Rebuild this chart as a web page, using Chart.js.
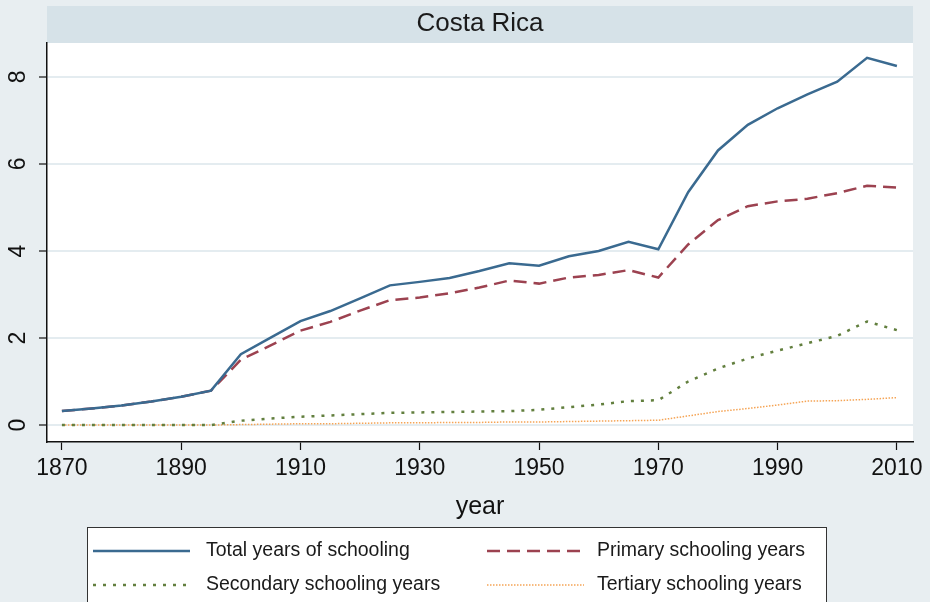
<!DOCTYPE html>
<html>
<head>
<meta charset="utf-8">
<script src="https://cdn.jsdelivr.net/npm/chart.js@4.4.1/dist/chart.umd.min.js"></script>
<style>
  html, body { margin: 0; padding: 0; background: #e8eef1; }
  #wrap { width: 930px; height: 602px; position: relative; }
</style>
</head>
<body>
<div id="wrap"><canvas id="chart" width="930" height="602"></canvas></div>
<script>
// data, every 5 years
const years = [1870, 1875, 1880, 1885, 1890, 1895, 1900, 1905, 1910, 1915, 1920, 1925, 1930, 1935, 1940,
  1945, 1950, 1955, 1960, 1965, 1970, 1975, 1980, 1985, 1990, 1995, 2000, 2005, 2010];
const totalYears = [0.32, 0.38, 0.45, 0.54, 0.65, 0.79, 1.63, 2.01, 2.39, 2.62, 2.91, 3.21, 3.29, 3.38, 3.54,
  3.72, 3.66, 3.88, 4.00, 4.21, 4.04, 5.35, 6.31, 6.90, 7.28, 7.60, 7.89, 8.44, 8.25];
const primaryYears = [0.32, 0.38, 0.45, 0.54, 0.65, 0.79, 1.50, 1.83, 2.17, 2.37, 2.63, 2.87, 2.93, 3.03, 3.16,
  3.32, 3.25, 3.39, 3.45, 3.56, 3.39, 4.15, 4.71, 5.03, 5.14, 5.20, 5.33, 5.50, 5.46];
const secondaryYears = [0, 0, 0, 0, 0, 0, 0.10, 0.15, 0.19, 0.22, 0.25, 0.28, 0.29, 0.30, 0.31,
  0.32, 0.35, 0.41, 0.47, 0.55, 0.57, 1.00, 1.30, 1.53, 1.71, 1.88, 2.05, 2.38, 2.18];
const tertiaryYears = [0, 0, 0, 0, 0, 0, 0.01, 0.02, 0.03, 0.03, 0.04, 0.05, 0.05, 0.06, 0.06,
  0.07, 0.07, 0.08, 0.09, 0.10, 0.11, 0.21, 0.31, 0.38, 0.46, 0.55, 0.56, 0.59, 0.63];
const seriesNames = ["Total years of schooling", "Primary schooling years",
  "Secondary schooling years", "Tertiary schooling years"];
const xTicks = [1870, 1890, 1910, 1930, 1950, 1970, 1990, 2010];
const yTicks = [0, 2, 4, 6, 8];
const panelTitle = "Costa Rica";
const xTitle = "year";

const FONT = "'Liberation Sans', Arial, sans-serif";

const toPoints = (vals) => vals.map((v, i) => ({ x: years[i], y: v }));

// white plot area + grey title band
const panelBg = {
  id: "panelBg",
  beforeDraw(chart) {
    const { ctx, chartArea: { left, right, top, bottom } } = chart;
    ctx.save();
    ctx.fillStyle = "#ffffff";
    ctx.fillRect(left, top, right - left, bottom - top);
    ctx.fillStyle = "#d6e2e8";
    ctx.fillRect(left, 6, right - left, top - 6);
    ctx.fillStyle = "#1a1a1a";
    ctx.font = "26px " + FONT;
    ctx.textAlign = "center";
    ctx.textBaseline = "middle";
    ctx.fillText(panelTitle, (left + right) / 2, 24);
    ctx.restore();
  },
};

// stata style boxed legend, two columns
const boxLegend = {
  id: "boxLegend",
  afterDraw(chart) {
    const { ctx } = chart;
    ctx.save();
    ctx.fillStyle = "#ffffff";
    ctx.fillRect(87, 527, 740, 90);
    ctx.strokeStyle = "#333333";
    ctx.lineWidth = 1;
    ctx.strokeRect(87.5, 527.5, 739, 90);
    ctx.font = "19.5px " + FONT;
    ctx.textBaseline = "middle";
    ctx.textAlign = "left";
    chart.data.datasets.forEach((ds, i) => {
      const col = i % 2;
      const row = Math.floor(i / 2);
      const x0 = col === 0 ? 93 : 487;
      const tx = col === 0 ? 206 : 597;
      const y = 551 + row * 34;
      ctx.strokeStyle = ds.borderColor;
      ctx.lineWidth = ds.borderWidth;
      ctx.setLineDash(ds.borderDash || []);
      ctx.beginPath();
      ctx.moveTo(x0, y);
      ctx.lineTo(x0 + 97, y);
      ctx.stroke();
      ctx.setLineDash([]);
      ctx.fillStyle = "#1a1a1a";
      ctx.fillText(ds.label, tx, y);
    });
    ctx.restore();
  },
};

const ctx = document.getElementById("chart").getContext("2d");
new Chart(ctx, {
  type: "line",
  plugins: [panelBg, boxLegend],
  data: {
    datasets: [
      {
        label: seriesNames[0],
        data: toPoints(totalYears),
        borderColor: "#3a6a90",
        borderWidth: 2.5,
      },
      {
        label: seriesNames[1],
        data: toPoints(primaryYears),
        borderColor: "#9c4250",
        borderWidth: 2.5,
        borderDash: [13, 7],
      },
      {
        label: seriesNames[2],
        data: toPoints(secondaryYears),
        borderColor: "#627f3e",
        borderWidth: 2.5,
        borderDash: [3, 7],
      },
      {
        label: seriesNames[3],
        data: toPoints(tertiaryYears),
        borderColor: "#f5a455",
        borderWidth: 1.5,
        borderDash: [1.5, 1.5],
      },
    ],
  },
  options: {
    responsive: false,
    animation: false,
    elements: {
      point: { radius: 0 },
      line: { tension: 0, fill: false },
    },
    layout: { padding: { top: 43, right: 17, bottom: 78, left: 0 } },
    plugins: {
      legend: { display: false },
      tooltip: { enabled: false },
    },
    scales: {
      x: {
        type: "linear",
        min: 1867.5,
        max: 2012.7,
        afterBuildTicks: (scale) => { scale.ticks = xTicks.map((v) => ({ value: v })); },
        afterFit: (scale) => { scale.height = 82; scale.paddingLeft = 0; scale.paddingRight = 0; },
        border: { display: true, color: "#111111", width: 1.5 },
        grid: { drawOnChartArea: false, tickLength: 8, tickColor: "#111111", tickWidth: 1.2 },
        ticks: {
          padding: 5,
          color: "#111111",
          font: { size: 23, family: FONT },
          maxRotation: 0,
          minRotation: 0,
          callback: (v) => String(v),
        },
        title: {
          display: true,
          text: xTitle,
          color: "#111111",
          font: { size: 25, family: FONT },
          padding: { top: 0, bottom: 2 },
        },
      },
      y: {
        min: -0.39,
        max: 8.78,
        afterBuildTicks: (scale) => { scale.ticks = yTicks.map((v) => ({ value: v })); },
        afterFit: (scale) => { scale.width = 47; },
        border: { display: true, color: "#111111", width: 1.5 },
        grid: { color: "#e4ecf0", lineWidth: 2, tickLength: 8, tickColor: "#111111", tickWidth: 1.2 },
        ticks: {
          padding: 14,
          crossAlign: "center",
          minRotation: 90,
          maxRotation: 90,
          color: "#111111",
          font: { size: 23, family: FONT },
          callback: (v) => String(v),
        },
      },
    },
  },
});
</script>
</body>
</html>
